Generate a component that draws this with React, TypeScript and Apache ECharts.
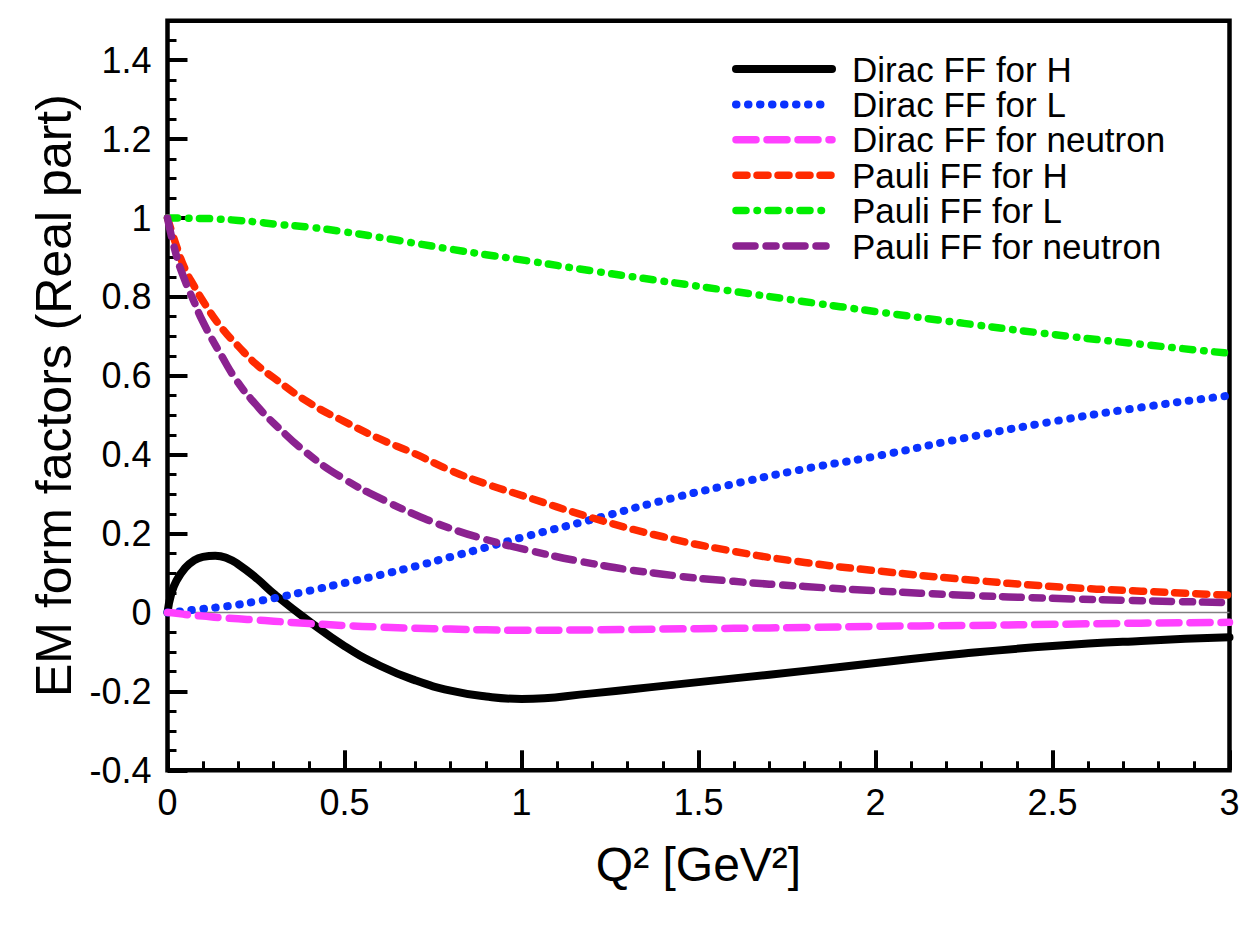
import React, { useEffect, useRef } from "react";
import * as echarts from "echarts";

// Momentum transfer grid Q^2 [GeV^2]
const Q2 = [
  0, 0.025, 0.05, 0.075, 0.1, 0.15, 0.2, 0.25, 0.3, 0.4, 0.5, 0.6, 0.7, 0.8,
  0.9, 1.0, 1.2, 1.4, 1.6, 1.8, 2.0, 2.25, 2.5, 2.75, 3.0,
];
// Finer grid near the low-Q2 bump of the Dirac FF for H
const Q2_DIRAC_H = [
  0, 0.01, 0.025, 0.05, 0.075, 0.1, 0.135, 0.17, 0.2, 0.25, 0.3, 0.4, 0.5,
  0.6, 0.7, 0.8, 0.9, 1.0, 1.2, 1.4, 1.6, 1.8, 2.0, 2.25, 2.5, 2.75, 3.0,
];

// Real parts of the electromagnetic form factors
const DIRAC_H = [
  0, 0.045, 0.08, 0.113, 0.132, 0.141, 0.144, 0.137, 0.122, 0.088, 0.048,
  -0.022, -0.085, -0.135, -0.172, -0.198, -0.213, -0.219, -0.205, -0.186,
  -0.167, -0.148, -0.128, -0.104, -0.085, -0.072, -0.063,
];
const DIRAC_L = [
  0, 0.002, 0.004, 0.007, 0.009, 0.014, 0.02, 0.028, 0.036, 0.055, 0.075,
  0.095, 0.117, 0.141, 0.165, 0.19, 0.236, 0.284, 0.326, 0.364, 0.396, 0.442,
  0.484, 0.52, 0.55,
];
const DIRAC_N = [
  0, -0.002, -0.005, -0.007, -0.009, -0.013, -0.016, -0.019, -0.022, -0.028,
  -0.033, -0.037, -0.04, -0.042, -0.044, -0.045, -0.044, -0.042, -0.04,
  -0.038, -0.035, -0.033, -0.03, -0.027, -0.025,
];
const PAULI_H = [
  1, 0.93, 0.87, 0.828, 0.79, 0.725, 0.675, 0.63, 0.595, 0.532, 0.484, 0.44,
  0.402, 0.36, 0.326, 0.297, 0.24, 0.192, 0.155, 0.127, 0.106, 0.084, 0.066,
  0.054, 0.044,
];
const PAULI_L = [
  1, 1, 1, 0.999, 0.999, 0.997, 0.994, 0.99, 0.985, 0.977, 0.965, 0.951,
  0.936, 0.921, 0.907, 0.894, 0.866, 0.84, 0.814, 0.788, 0.763, 0.733, 0.705,
  0.68, 0.657,
];
const PAULI_N = [
  1, 0.905, 0.84, 0.788, 0.737, 0.655, 0.582, 0.527, 0.48, 0.4, 0.338, 0.29,
  0.248, 0.213, 0.185, 0.162, 0.124, 0.097, 0.079, 0.066, 0.055, 0.044, 0.036,
  0.03, 0.025,
];

const SERIES_NAMES = [
  "Dirac FF for H",
  "Dirac FF for L",
  "Dirac FF for neutron",
  "Pauli FF for H",
  "Pauli FF for L",
  "Pauli FF for neutron",
];

const X_MIN = 0;
const X_MAX = 3;
const Y_MIN = -0.4;
const Y_MAX = 1.5;

const FONT = "'Liberation Sans', Arial, Helvetica, sans-serif";

const CURVES = [
  { name: SERIES_NAMES[0], q: Q2_DIRAC_H, values: DIRAC_H, color: "#000000", width: 8, type: "solid" as any },
  { name: SERIES_NAMES[1], q: Q2, values: DIRAC_L, color: "#0a32ff", width: 8, type: [0.5, 11.5] },
  { name: SERIES_NAMES[2], q: Q2, values: DIRAC_N, color: "#ff40ff", width: 7.5, type: [20, 11] },
  { name: SERIES_NAMES[3], q: Q2, values: PAULI_H, color: "#ff2a00", width: 7.5, type: [11, 10] },
  { name: SERIES_NAMES[4], q: Q2, values: PAULI_L, color: "#00ee00", width: 7.5, type: [10, 11, 0.5, 10.5] },
  { name: SERIES_NAMES[5], q: Q2, values: PAULI_N, color: "#8b2290", width: 7.5, type: [19, 11, 10, 10] },
];

export default function App() {
  const ref = useRef<HTMLDivElement>(null);

  useEffect(() => {
    if (!ref.current) return;
    const chart = echarts.init(ref.current, undefined, { renderer: "svg" });

    const tickLabel = { fontSize: 36, color: "#000", fontFamily: FONT };
    const hiddenLine = { show: false, onZero: false };

    const option: any = {
      animation: false,
      backgroundColor: "#fff",
      textStyle: { fontFamily: FONT },
      grid: {
        left: 167.5,
        right: 20.5,
        top: 20.8,
        bottom: 167.7,
        show: true,
        borderColor: "#000",
        borderWidth: 4.5,
        backgroundColor: "transparent",
      },
      legend: {
        orient: "vertical",
        left: 732,
        top: 51.3,
        padding: 0,
        itemGap: 0,
        itemWidth: 96,
        itemHeight: 14,
        data: SERIES_NAMES,
        itemStyle: { opacity: 0 },
        lineStyle: { width: "inherit", cap: "round" },
        textStyle: {
          fontSize: 35,
          color: "#000",
          fontFamily: FONT,
          lineHeight: 35.4,
          padding: [0, 0, 0, 15],
        },
      },
      xAxis: [
        {
          type: "value",
          min: X_MIN,
          max: X_MAX,
          interval: 0.5,
          position: "bottom",
          name: "Q² [GeV²]",
          nameLocation: "middle",
          nameGap: 70,
          nameTextStyle: { fontSize: 48, color: "#000", fontFamily: FONT },
          axisLine: hiddenLine,
          axisTick: { show: true, inside: true, length: 20, lineStyle: { color: "#000", width: 4 } },
          axisLabel: { ...tickLabel, margin: 14 },
          splitLine: { show: false },
        },
        {
          type: "value",
          min: X_MIN,
          max: X_MAX,
          interval: 0.1,
          position: "bottom",
          axisLine: hiddenLine,
          axisTick: { show: true, inside: true, length: 9, lineStyle: { color: "#000", width: 3 } },
          axisLabel: { show: false },
          splitLine: { show: false },
        },
      ],
      yAxis: [
        {
          type: "value",
          min: Y_MIN,
          max: Y_MAX,
          interval: 0.2,
          position: "left",
          name: "EM form factors (Real part)",
          nameLocation: "middle",
          nameGap: 86,
          nameRotate: 90,
          nameTextStyle: { fontSize: 50, color: "#000", fontFamily: FONT },
          axisLine: hiddenLine,
          axisTick: { show: true, inside: true, length: 20, lineStyle: { color: "#000", width: 4 } },
          axisLabel: {
            ...tickLabel,
            margin: 16,
            formatter: (v: number) => (v > 1.45 ? "" : String(Math.round(v * 10) / 10)),
          },
          splitLine: { show: false },
        },
        {
          type: "value",
          min: Y_MIN,
          max: Y_MAX,
          interval: 0.05,
          position: "left",
          axisLine: hiddenLine,
          axisTick: { show: true, inside: true, length: 9, lineStyle: { color: "#000", width: 3 } },
          axisLabel: { show: false },
          splitLine: { show: false },
        },
      ],
      series: [
        {
          name: "zero",
          type: "line",
          data: [
            [X_MIN, 0],
            [X_MAX, 0],
          ],
          symbol: "none",
          silent: true,
          lineStyle: { color: "#808080", width: 1.5 },
          z: 1,
        },
        ...CURVES.map((c) => ({
          name: c.name,
          type: "line",
          data: c.q.map((q, i) => [q, c.values[i]]),
          symbol: "none",
          smooth: 0.5,
          lineStyle: { color: c.color, width: c.width, type: c.type, cap: "round", join: "round" },
          itemStyle: { color: c.color },
          z: 2,
        })),
      ],
    };

    chart.setOption(option);
    return () => chart.dispose();
  }, []);

  return (
    <div
      ref={ref}
      style={{ position: "fixed", left: 0, top: 0, width: 1250, height: 938, background: "#fff" }}
    />
  );
}
